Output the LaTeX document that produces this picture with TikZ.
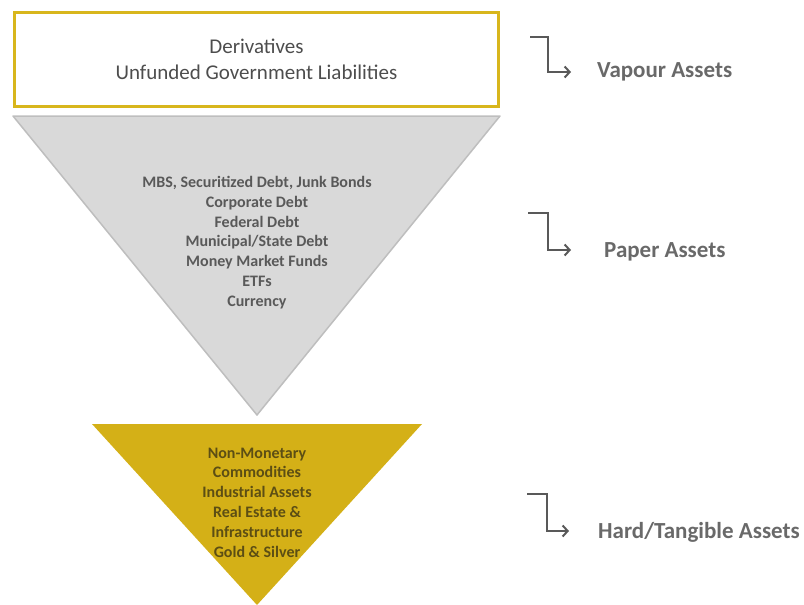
\documentclass[tikz,border=0pt]{standalone}
\usepackage{fontspec}
\setmainfont{Carlito}
\usetikzlibrary{arrows.meta,positioning}
\definecolor{gold}{RGB}{216,182,28}
\definecolor{goldfill}{RGB}{212,176,23}
\definecolor{paperfill}{RGB}{217,217,217}
\definecolor{paperedge}{RGB}{190,190,190}
\definecolor{boxtext}{RGB}{77,77,77}
\definecolor{papertext}{RGB}{89,89,89}
\definecolor{hardtext}{RGB}{92,78,20}
\definecolor{labelgray}{RGB}{105,105,105}
\definecolor{arrowgray}{RGB}{89,89,89}
\begin{document}
\begin{tikzpicture}[x=1pt,y=-1pt,
  items/.style={align=center, font=\bfseries\fontsize{16}{19.8}\selectfont},
  asset/.style={anchor=west, inner sep=0pt, text=labelgray, font=\bfseries\fontsize{23}{24}\selectfont},
  turn/.style={draw=arrowgray, line width=2pt, -{Straight Barb[length=5pt,width=11pt]}}]
  \useasboundingbox (0,0) rectangle (804,605);

  % vapour tier
  \node[draw=gold, line width=3pt, minimum width=484pt, minimum height=94pt,
    align=center, text=boxtext, font=\fontsize{21}{26}\selectfont] (vapour) at (256.5,59.5)
    {Derivatives\\Unfunded Government Liabilities};

  % paper tier
  \path[fill=paperfill, draw=paperedge, line width=1.5pt, line join=round]
    (13,116) -- (500,116) -- (257,415) -- cycle;
  \node[items, text=papertext] (paper) at (257,242.5)
    {MBS, Securitized Debt, Junk Bonds\\Corporate Debt\\Federal Debt\\Municipal/State Debt\\Money Market Funds\\ETFs\\Currency};

  % hard tier
  \path[fill=goldfill] (92,424) -- (422,424) -- (257,605) -- cycle;
  \node[items, text=hardtext] (hard) at (257,502.5)
    {Non-Monetary\\Commodities\\Industrial Assets\\Real Estate \&\\Infrastructure\\Gold \& Silver};

  % labels
  \node[asset] (vapourlab) at (597,72) {Vapour Assets};
  \node[asset] (paperlab) at (604,252) {Paper Assets};
  \node[asset] (hardlab) at (598,532) {Hard/Tangible Assets};

  \coordinate (v0) at (530,37);
  \coordinate (v1) at (571,72);
  \coordinate (p0) at (528,213);
  \coordinate (p1) at (571,250);
  \coordinate (h0) at (527,494);
  \coordinate (h1) at (569,531);
  \draw[turn] (v0) -- ++(18,0) |- (v1);
  \draw[turn] (p0) -- ++(20,0) |- (p1);
  \draw[turn] (h0) -- ++(20,0) |- (h1);
\end{tikzpicture}
\end{document}
